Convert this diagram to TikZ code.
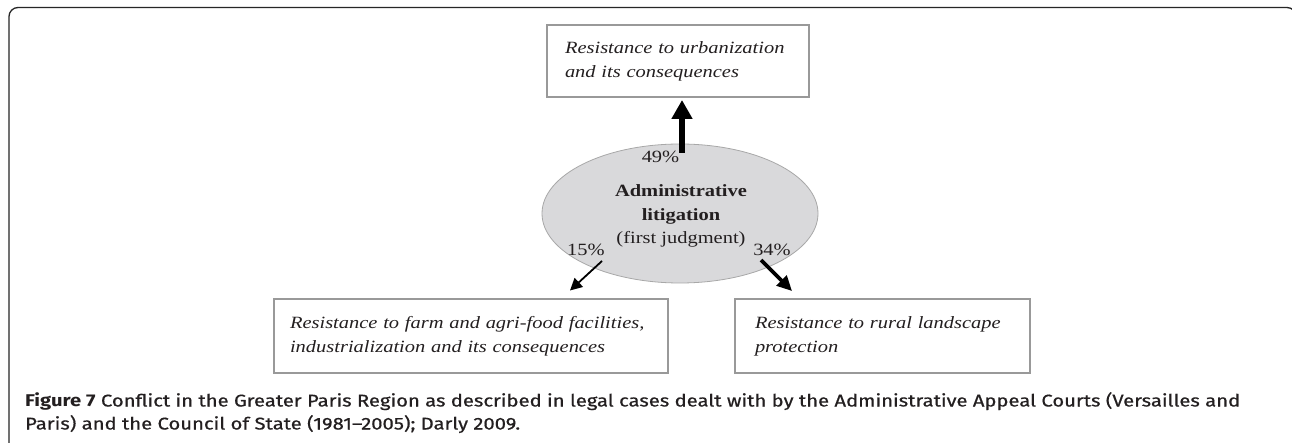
\documentclass[tikz,border=0pt]{standalone}
\usepackage{fontspec}
\setmainfont{Liberation Serif}[FakeStretch=1.19]
\newfontfamily\capfont{Fira Sans}[FakeStretch=1.19, UprightFeatures={FakeBold=0.6}]
\usetikzlibrary{arrows.meta,shapes.geometric}
\definecolor{boxgray}{HTML}{999999}
\definecolor{ellfill}{HTML}{D9D9DB}
\definecolor{ellline}{HTML}{A8A8A8}
\definecolor{ink}{HTML}{231F20}
\begin{document}
\begin{tikzpicture}[x=1pt,y=-1pt,
  catbox/.style={draw=boxgray, line width=1.5pt, align=left, inner ysep=0pt,
    font=\fontsize{17.2}{24}\selectfont\itshape, text=ink},
  pct/.style={font=\fontsize{17.2}{20}\selectfont, text=ink, inner sep=0pt},
  capline/.style={anchor=base west, inner sep=0pt, text=ink, font=\capfont\fontsize{17}{23}\selectfont},
  bigarrow/.style={draw=black, line width=6pt, -{Triangle[length=19pt,width=20pt]}},
  midarrow/.style={draw=black, line width=3.6pt, -{Triangle[length=15pt,width=14pt]}},
  thinarrow/.style={draw=black, line width=1.8pt, -{Triangle[length=12pt,width=12pt]}}]
\useasboundingbox (0,0) rectangle (1292,443);
\fill[white] (0,0) rectangle (1292,443);
\begin{scope}
  \clip (0,0) rectangle (1292,443);
  \draw[line width=1.3pt, draw=black!85, rounded corners=9pt] (9,7.5) rectangle (1296,452);
\end{scope}

% central ellipse
\node[ellipse, draw=ellline, line width=0.8pt, fill=ellfill, minimum width=276pt, minimum height=139pt,
  inner sep=0pt] (lit) at (680,213.5) {};
\node[align=center, text=ink, font=\fontsize{17.2}{23.5}\selectfont, inner sep=0pt] (littext) at (681,216)
  {\textbf{Administrative}\\ \textbf{litigation}\\ (first judgment)};

% boxes
\node[catbox, inner xsep=18pt, text width=226pt, minimum height=72pt] (urb) at (678,61)
  {Resistance to urbanization\\ and its consequences};
\node[catbox, inner xsep=16pt, text width=362pt, minimum height=74pt] (farm) at (471,336)
  {Resistance to farm and agri-food facilities,\\ industrialization and its consequences};
\node[catbox, inner xsep=20pt, text width=255pt, minimum height=74pt] (rural) at (882.5,336)
  {Resistance to rural landscape\\ protection};

% arrow endpoints
\coordinate (s49) at (682,153);
\coordinate (t49) at (682,100);
\coordinate (s15) at (602,261);
\coordinate (t15) at (570,290.5);
\coordinate (s34) at (761,260);
\coordinate (t34) at (792,291);
\draw[bigarrow] (s49) -- (t49);
\draw[thinarrow] (s15) -- (t15);
\draw[midarrow] (s34) -- (t34);

% percentages
\node[pct] (p49) at (660.5,157) {49\%};
\node[pct] (p15) at (586,250) {15\%};
\node[pct] (p34) at (772,250) {34\%};

% caption
\node[capline] (cap1) at (25,406.5)
  {\textbf{Figure 7} Conflict in the Greater Paris Region as described in legal cases dealt with by the Administrative Appeal Courts (Versailles and};
\node[capline] (cap2) at (25,429.5)
  {Paris) and the Council of State (1981–2005); Darly 2009.};
\end{tikzpicture}
\end{document}
